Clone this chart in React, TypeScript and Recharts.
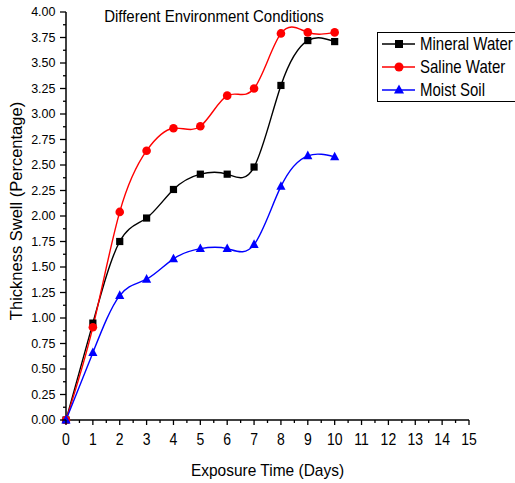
import React from 'react';
import { LineChart, Line, XAxis, YAxis, Legend, Label } from 'recharts';

// values
const days = [0, 1, 2, 3, 4, 5, 6, 7, 8, 9, 10];
const mineralWater = [0, 0.95, 1.75, 1.98, 2.26, 2.41, 2.41, 2.48, 3.28, 3.72, 3.71];
const salineWater = [0, 0.91, 2.04, 2.64, 2.86, 2.88, 3.18, 3.25, 3.79, 3.8, 3.8];
const moistSoil = [0, 0.66, 1.22, 1.38, 1.58, 1.68, 1.68, 1.72, 2.29, 2.59, 2.58];

const seriesOrder = ['mineral', 'saline', 'moist'];

const xMajorTicks = [0, 1, 2, 3, 4, 5, 6, 7, 8, 9, 10, 11, 12, 13, 14, 15];
const yMajorTicks = [0, 0.25, 0.5, 0.75, 1, 1.25, 1.5, 1.75, 2, 2.25, 2.5, 2.75, 3, 3.25, 3.5, 3.75, 4];

// minor ticks sit halfway between the labelled ones
const xTicks = xMajorTicks.flatMap((t, i) => (i === 0 ? [t] : [(t + xMajorTicks[i - 1]) / 2, t]));
const yTicks = yMajorTicks.flatMap((t, i) => (i === 0 ? [t] : [(t + yMajorTicks[i - 1]) / 2, t]));

const data = days.map((day, i) => ({
  day,
  mineral: mineralWater[i],
  saline: salineWater[i],
  moist: moistSoil[i],
}));

const FONT = '"Liberation Sans", Arial, sans-serif';

const SquareDot = (props: any) => {
  const { cx, cy, index } = props;
  return <rect key={`sq-${index}`} x={cx - 3.6} y={cy - 3.6} width={7.2} height={7.2} fill="#000" />;
};

const CircleDot = (props: any) => {
  const { cx, cy, index } = props;
  return <circle key={`ci-${index}`} cx={cx} cy={cy} r={4.3} fill="#ff0000" />;
};

const TriangleDot = (props: any) => {
  const { cx, cy, index } = props;
  return (
    <polygon
      key={`tr-${index}`}
      points={`${cx},${cy - 5.2} ${cx - 4.6},${cy + 3.4} ${cx + 4.6},${cy + 3.4}`}
      fill="#0000ff"
    />
  );
};

const XTick = (props: any) => {
  const { x, y, payload } = props;
  const major = Number.isInteger(payload.value);
  return (
    <g>
      <line x1={x} y1={y} x2={x} y2={y + (major ? 5 : 3)} stroke="#000" strokeWidth={1.3} />
      {major && (
        <text transform={`translate(${x},${y + 25}) scale(1,1.15)`} textAnchor="middle" fontSize={14} fill="#000">
          {payload.value}
        </text>
      )}
    </g>
  );
};

const YTick = (props: any) => {
  const { x, y, payload } = props;
  const major = Number.isInteger(payload.value * 4);
  return (
    <g>
      <line x1={x} y1={y} x2={x - (major ? 6 : 3)} y2={y} stroke="#000" strokeWidth={1.3} />
      {major && (
        <text x={x - 10.5} y={y + 4.4} textAnchor="end" fontSize={12.5} fill="#000">
          {payload.value.toFixed(2)}
        </text>
      )}
    </g>
  );
};

const markers: Record<string, (cx: number, cy: number) => React.ReactNode> = {
  mineral: (cx, cy) => <rect x={cx - 4} y={cy - 4} width={8} height={8} fill="#000" />,
  saline: (cx, cy) => <circle cx={cx} cy={cy} r={4.5} fill="#ff0000" />,
  moist: (cx, cy) => (
    <polygon points={`${cx},${cy - 5.5} ${cx - 5},${cy + 3.5} ${cx + 5},${cy + 3.5}`} fill="#0000ff" />
  ),
};

const renderLegend = (props: any) => {
  const { payload = [] } = props;
  const items = [...payload].sort(
    (a: any, b: any) => seriesOrder.indexOf(a.dataKey) - seriesOrder.indexOf(b.dataKey)
  );
  return (
    <div style={{ width: 150, height: 70, border: '1px solid #000', boxSizing: 'border-box', background: '#fff' }}>
      <svg width={148} height={68} style={{ display: 'block', fontFamily: FONT }}>
        {items.map((entry: any, i: number) => {
          const cy = 11 + i * 23;
          return (
            <g key={entry.dataKey}>
              <line x1={4} y1={cy} x2={37} y2={cy} stroke={entry.color} strokeWidth={1.5} />
              {markers[entry.dataKey](21, cy)}
              <text transform={`translate(42,${cy + 6.2}) scale(1,1.18)`} fontSize={15} fill="#000">
                {entry.value}
              </text>
            </g>
          );
        })}
      </svg>
    </div>
  );
};

const App = () => {
  return (
    <div style={{ position: 'absolute', left: 0, top: 0, width: 515, height: 483, fontFamily: FONT, background: '#fff' }}>
      <LineChart width={515} height={483} data={data} margin={{ top: 12, right: 46, bottom: 18, left: 16 }}>
        <XAxis
          dataKey="day"
          type="number"
          domain={[0, 15]}
          ticks={xTicks}
          interval={0}
          tickSize={0}
          tickMargin={0}
          tickLine={false}
          tick={<XTick />}
          height={45}
          axisLine={{ stroke: '#000', strokeWidth: 1.5 }}
        >
          <Label
            content={(p: any) => {
              const vb = p.viewBox || { x: 66, y: 420, width: 403 };
              return (
                <text
                  transform={`translate(${vb.x + vb.width / 2},${vb.y + 56}) scale(1,1.12)`}
                  textAnchor="middle"
                  fontSize={15.5}
                  fill="#000"
                >
                  Exposure Time (Days)
                </text>
              );
            }}
          />
        </XAxis>
        <YAxis
          type="number"
          domain={[0, 4]}
          ticks={yTicks}
          interval={0}
          tickSize={0}
          tickMargin={0}
          tickLine={false}
          tick={<YTick />}
          width={50}
          axisLine={{ stroke: '#000', strokeWidth: 1.5 }}
        >
          <Label
            content={(p: any) => {
              const vb = p.viewBox || { x: 16, y: 12, height: 408 };
              return (
                <text
                  transform={`translate(${vb.x + 6},${vb.y + vb.height / 2 - 5}) rotate(-90)`}
                  textAnchor="middle"
                  fontSize={16.5}
                  fill="#000"
                >
                  Thickness Swell (Percentage)
                </text>
              );
            }}
          />
        </YAxis>
        <Legend
          layout="vertical"
          align="center"
          verticalAlign="middle"
          itemSorter={null}
          content={renderLegend}
          wrapperStyle={{ left: 377, top: 32, width: 138, overflow: 'hidden' }}
        />
        <Line
          type="natural"
          dataKey="mineral"
          name="Mineral Water"
          stroke="#000"
          strokeWidth={1.4}
          dot={SquareDot}
          activeDot={false}
          isAnimationActive={false}
        />
        <Line
          type="natural"
          dataKey="saline"
          name="Saline Water"
          stroke="#ff0000"
          strokeWidth={1.4}
          dot={CircleDot}
          activeDot={false}
          isAnimationActive={false}
        />
        <Line
          type="natural"
          dataKey="moist"
          name="Moist Soil"
          stroke="#0000ff"
          strokeWidth={1.4}
          dot={TriangleDot}
          activeDot={false}
          isAnimationActive={false}
        />
      </LineChart>
      <svg
        width={515}
        height={40}
        style={{ position: 'absolute', left: 0, top: 0, pointerEvents: 'none', fontFamily: FONT }}
      >
        <text transform="translate(214,22) scale(1,1.15)" textAnchor="middle" fontSize={15} fill="#000">
          Different Environment Conditions
        </text>
      </svg>
    </div>
  );
};

export default App;
